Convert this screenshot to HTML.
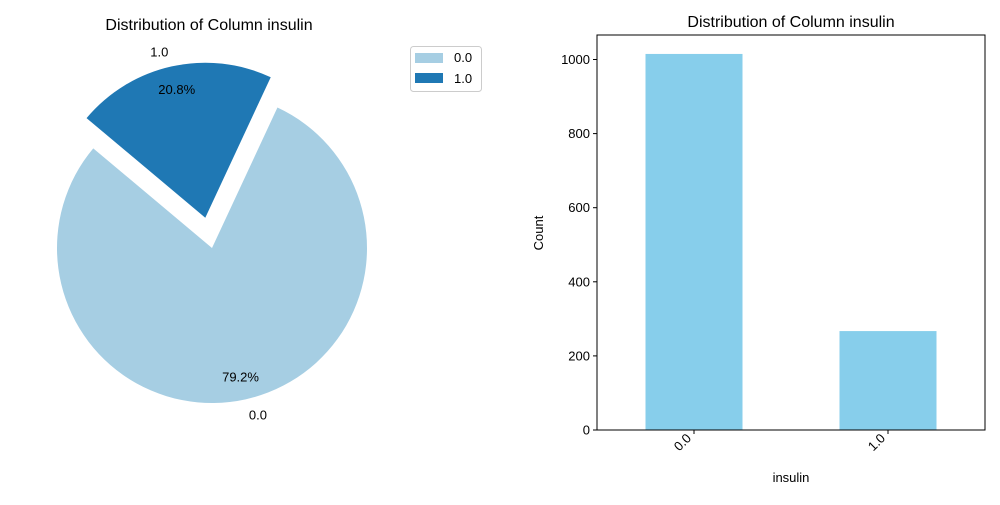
<!DOCTYPE html>
<html><head><meta charset="utf-8"><style>
body{margin:0;background:#fff;font-family:"Liberation Sans","DejaVu Sans",sans-serif;}
svg text{font-family:"Liberation Sans","DejaVu Sans",sans-serif;fill:#000}
</style></head><body>
<svg id="c" width="1000" height="500" xmlns="http://www.w3.org/2000/svg">
<rect width="1000" height="500" fill="#fff"/>
<text x="209" y="30" font-size="16" text-anchor="middle">Distribution of Column insulin</text>
<text x="791" y="27" font-size="16" text-anchor="middle">Distribution of Column insulin</text>
<g id="pie"></g>
<g id="legend">
<rect x="410.5" y="46.5" width="71" height="45" rx="3" fill="#fff" stroke="#ccc"/>
<rect x="415" y="53" width="28" height="10" fill="#a6cee3"/>
<text x="454" y="62" font-size="13">0.0</text>
<rect x="415" y="73" width="28" height="10" fill="#1f78b4"/>
<text x="454" y="83" font-size="13">1.0</text>
</g>
<g id="bars"></g>
</svg>
<script>
const categories=["0.0","1.0"];
const counts=[1015,267];
const yTicks=[0,200,400,600,800,1000];
const pieColors=["#a6cee3","#1f78b4"];
const NS="http://www.w3.org/2000/svg";
function mk(tag,attrs,parent){const e=document.createElementNS(NS,tag);for(const k in attrs)e.setAttribute(k,attrs[k]);parent.appendChild(e);return e;}
// pie
const pie=document.getElementById('pie');
const cx=212,cy=248,r=155,start=140,explode=[0,0.2];
const total=counts.reduce((a,b)=>a+b,0);
let ang=start;
counts.forEach((v,i)=>{
  const sweep=v/total*360,mid=(ang+sweep/2)*Math.PI/180;
  const ox=cx+explode[i]*r*Math.cos(mid),oy=cy-explode[i]*r*Math.sin(mid);
  const a0=ang*Math.PI/180,a1=(ang+sweep)*Math.PI/180;
  const x0=ox+r*Math.cos(a0),y0=oy-r*Math.sin(a0),x1=ox+r*Math.cos(a1),y1=oy-r*Math.sin(a1);
  const p=mk('path',{d:`M${ox},${oy}L${x0},${y0}A${r},${r} 0 ${sweep>180?1:0} 0 ${x1},${y1}Z`,fill:pieColors[i]},pie);
  
  
  const px=ox+0.85*r*Math.cos(mid),py=oy-0.85*r*Math.sin(mid);
  const t=mk('text',{x:px,y:py+5,'font-size':13,'text-anchor':'middle'},pie);
  t.textContent=(v/total*100).toFixed(1)+'%';
  
  
  const lx=ox+1.1*r*Math.cos(mid),ly=oy-1.1*r*Math.sin(mid);
  const l=mk('text',{x:lx,y:ly+5,'font-size':13,'text-anchor':Math.cos(mid)>0?'start':'end'},pie);
  l.textContent=categories[i];
  
  
  ang+=sweep;
});
// bars
const g=document.getElementById('bars');
const X0=597,X1=985,Y0=430,Y1=35;
const ys=v=>Y0-v*0.3705;
const step=(X1-X0)/categories.length;
const xc=i=>X0+step*(i+0.5);
categories.forEach((c,i)=>{
  const b=mk('rect',{x:xc(i)-step/4,y:ys(counts[i]),width:step/2,height:Y0-ys(counts[i]),fill:'#87ceeb'},g);
  
  
  mk('line',{x1:xc(i),x2:xc(i),y1:Y0,y2:Y0+4,stroke:'#000'},g);
  const tx=xc(i)-2,ty=Y0+9;
  const t=mk('text',{x:tx,y:ty,'font-size':13,'text-anchor':'end',transform:`rotate(-45 ${tx} ${ty})`},g);
  t.textContent=c;
  
  
});
yTicks.forEach(v=>{
  mk('line',{x1:X0-4,x2:X0,y1:ys(v),y2:ys(v),stroke:'#000'},g);
  const t=mk('text',{x:X0-7,y:ys(v)+4.5,'font-size':13,'text-anchor':'end'},g);
  t.textContent=v;
  
  
});
const frame=mk('rect',{x:X0,y:Y1,width:X1-X0,height:Y0-Y1,fill:'none',stroke:'#000'},g);


const xl=mk('text',{x:791,y:482,'font-size':13,'text-anchor':'middle'},g);
xl.textContent='insulin';


const yl=mk('text',{x:543,y:233,'font-size':13,'text-anchor':'middle',transform:'rotate(-90 543 233)'},g);
yl.textContent='Count';


</script>
</body></html>
